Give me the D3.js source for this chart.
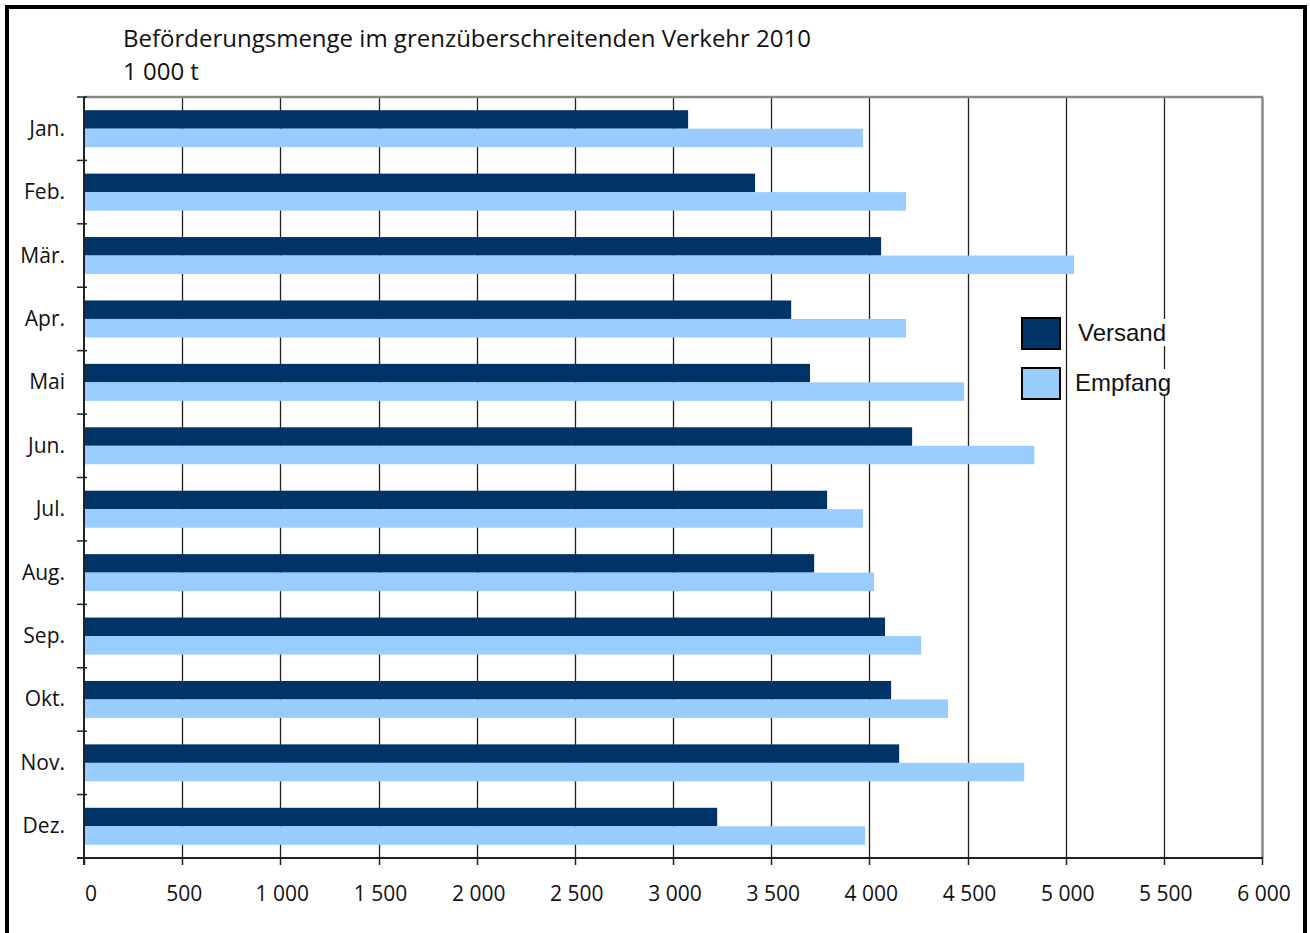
<!DOCTYPE html>
<html>
<head>
<meta charset="utf-8">
<script src="https://cdn.jsdelivr.net/npm/d3@7"></script>
<style>
  body { margin: 0; background: #fff; }
  svg text { font-family: "Open Sans", "Noto Sans", sans-serif; fill: #111; }
</style>
</head>
<body>
<div id="chart"></div>
<script>
// Monate und Werte (1 000 t)
var months = ["Jan.", "Feb.", "Mär.", "Apr.", "Mai", "Jun.", "Jul.", "Aug.", "Sep.", "Okt.", "Nov.", "Dez."];
var versand = [3077, 3418, 4060, 3602, 3698, 4218, 3785, 3719, 4080, 4111, 4152, 3225];
var empfang = [3968, 4187, 5043, 4187, 4483, 4840, 3968, 4024, 4264, 4401, 4789, 3979];
var xTicks = [0, 500, 1000, 1500, 2000, 2500, 3000, 3500, 4000, 4500, 5000, 5500, 6000];
var seriesNames = ["Versand", "Empfang"];
var colors = ["#003366", "#99ccff"];

(function() {
var w = 1310, h = 933;
var mLeft = 84, mRight = 1262, mTop = 97, mBottom = 858;

var svg = d3.select("#chart").append("svg")
  .attr("width", w)
  .attr("height", h);

// outer frame
svg.append("rect")
  .attr("x", 7).attr("y", 7)
  .attr("width", w - 12).attr("height", h)
  .attr("fill", "none").attr("stroke", "#000").attr("stroke-width", 4);

var x = d3.scaleLinear().domain([0, 6000]).range([mLeft, mRight]);
var y = d3.scaleBand().domain(months).range([mTop, mBottom]);

// gridlines
svg.selectAll("line.grid")
  .data(xTicks.slice(1, -1))
  .enter().append("line")
  .attr("class", "grid")
  .attr("x1", function(d) { return Math.round(x(d)) + 0.5; })
  .attr("x2", function(d) { return Math.round(x(d)) + 0.5; })
  .attr("y1", mTop).attr("y2", mBottom)
  .attr("stroke", "#222").attr("stroke-width", 1.3);

// plot border top/right
svg.append("line").attr("x1", mLeft).attr("x2", mRight + 1).attr("y1", mTop).attr("y2", mTop)
  .attr("stroke", "#888").attr("stroke-width", 2.5);
svg.append("line").attr("x1", mRight + 0.5).attr("x2", mRight + 0.5).attr("y1", mTop).attr("y2", mBottom)
  .attr("stroke", "#888").attr("stroke-width", 2.5);

// bars
var barH = 18.5;
var rows = svg.selectAll("g.row")
  .data(months)
  .enter().append("g")
  .attr("class", "row");

rows.append("rect")
  .attr("x", x(0))
  .attr("y", function(d) { return y(d) + y.bandwidth() / 2 - barH; })
  .attr("width", function(d, i) { return x(versand[i]) - x(0); })
  .attr("height", barH)
  .attr("fill", colors[0]);

rows.append("rect")
  .attr("x", x(0))
  .attr("y", function(d) { return y(d) + y.bandwidth() / 2; })
  .attr("width", function(d, i) { return x(empfang[i]) - x(0); })
  .attr("height", barH)
  .attr("fill", colors[1]);

// y axis
var yAxisG = svg.append("g").attr("transform", "translate(" + mLeft + ",0)");
yAxisG.append("line").attr("x1", 0).attr("x2", 0).attr("y1", mTop).attr("y2", mBottom + 7)
  .attr("stroke", "#222").attr("stroke-width", 2);
var yTickPos = months.map(function(m) { return y(m); }).concat([mBottom]);
yAxisG.selectAll("line.tick")
  .data(yTickPos)
  .enter().append("line")
  .attr("x1", -7).attr("x2", 3)
  .attr("y1", function(d) { return d; }).attr("y2", function(d) { return d; })
  .attr("stroke", "#222").attr("stroke-width", 1.5);
yAxisG.selectAll("text")
  .data(months)
  .enter().append("text")
  .attr("x", -19)
  .attr("y", function(d) { return y(d) + y.bandwidth() / 2 + 7; })
  .attr("text-anchor", "end")
  .style("font-size", "21px")
  .text(function(d) { return d; });

// x axis
var xAxisG = svg.append("g").attr("transform", "translate(0," + mBottom + ")");
xAxisG.append("line").attr("x1", mLeft - 7).attr("x2", mRight + 1).attr("y1", 0).attr("y2", 0)
  .attr("stroke", "#222").attr("stroke-width", 2);
xAxisG.selectAll("line.tick")
  .data(xTicks)
  .enter().append("line")
  .attr("x1", function(d) { return Math.round(x(d)) + 0.5; })
  .attr("x2", function(d) { return Math.round(x(d)) + 0.5; })
  .attr("y1", 0).attr("y2", 7)
  .attr("stroke", "#222").attr("stroke-width", 1.5);
xAxisG.selectAll("text")
  .data(xTicks)
  .enter().append("text")
  .attr("x", function(d) { return x(d) + (d === 0 ? 7 : 2); })
  .attr("y", 43)
  .attr("text-anchor", "middle")
  .style("font-size", "21px")
  .text(function(d) { return d >= 1000 ? Math.floor(d / 1000) + " " + d3.format("03")(d % 1000) : d; });

// title
svg.append("text").attr("x", 123).attr("y", 47).style("font-size", "24px")
  .text("Beförderungsmenge im grenzüberschreitenden Verkehr 2010");
svg.append("text").attr("x", 123).attr("y", 80).style("font-size", "24px")
  .text("1 000 t");

// legend
var legend = svg.append("g");
seriesNames.forEach(function(name, i) {
  var ly = 318 + i * 50;
  legend.append("rect")
    .attr("x", 1022).attr("y", ly)
    .attr("width", 38).attr("height", 31)
    .attr("fill", colors[i]).attr("stroke", "#000").attr("stroke-width", 2);
  var t = legend.append("text")
    .attr("x", i === 0 ? 1078 : 1075).attr("y", ly + 23)
    .style("font-family", "'Liberation Sans', Arial, sans-serif")
    .style("font-size", "24px")
    .text(name);
  var bb = t.node().getBBox();
  legend.insert("rect", "text")
    .attr("x", bb.x - 2).attr("y", bb.y)
    .attr("width", bb.width + 4).attr("height", bb.height)
    .attr("fill", "#fff");
});
})();
</script>
</body>
</html>
